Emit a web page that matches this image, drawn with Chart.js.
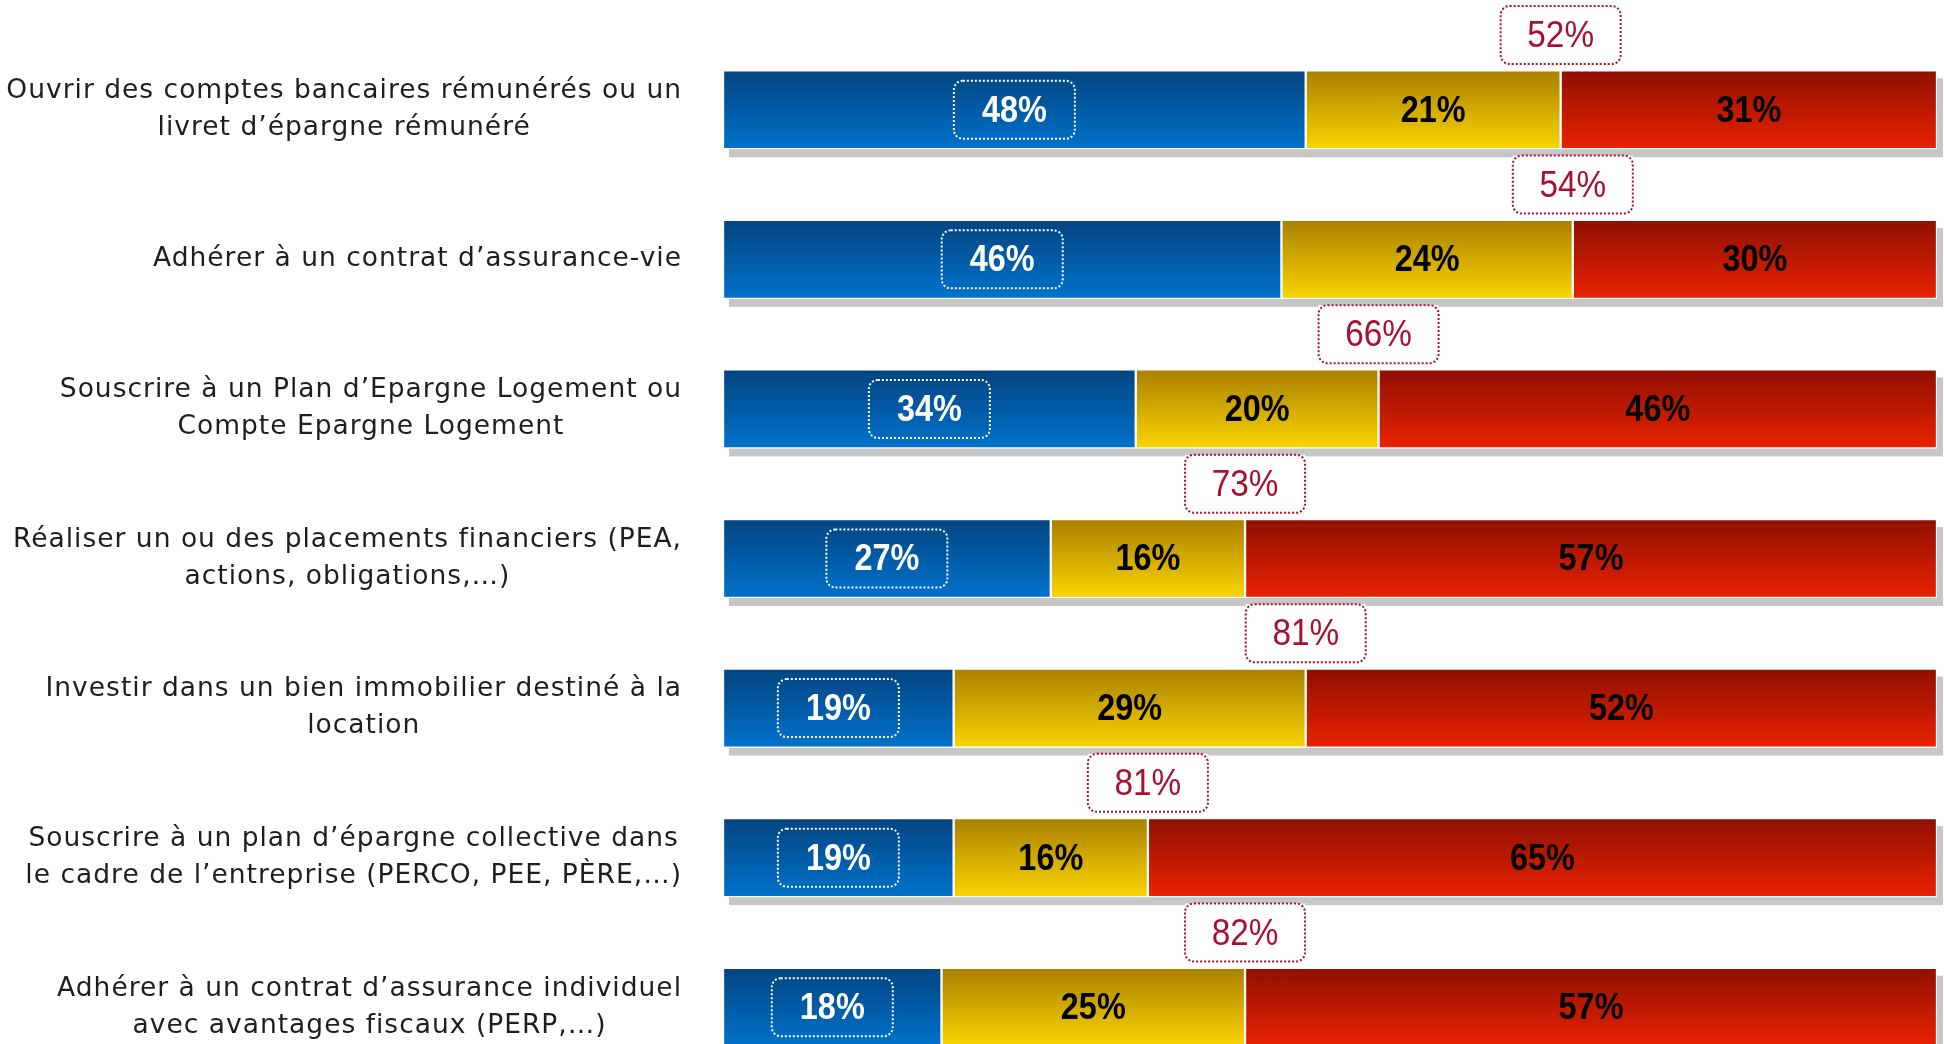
<!DOCTYPE html>
<html>
<head>
<meta charset="utf-8">
<script src="https://cdn.jsdelivr.net/npm/chart.js@4.4.1/dist/chart.umd.min.js"></script>
<style>
html, body { margin: 0; padding: 0; background: #fff; overflow: hidden; width: 1944px; height: 1044px; }
#wrap { position: absolute; left: 0; top: 0; width: 1944px; height: 1082px; }
</style>
</head>
<body>
<div id="wrap"><canvas id="chart"></canvas></div>
<script>
// Category labels (one array entry per line)
const categories = [
    ['Ouvrir des comptes bancaires rémunérés ou un', 'livret d’épargne rémunéré'],
    ['Adhérer à un contrat d’assurance-vie'],
    ['Souscrire à un Plan d’Epargne Logement ou', 'Compte Epargne Logement'],
    ['Réaliser un ou des placements financiers (PEA,', 'actions, obligations,…)'],
    ['Investir dans un bien immobilier destiné à la', 'location'],
    ['Souscrire à un plan d’épargne collective dans', 'le cadre de l’entreprise (PERCO, PEE, PÈRE,…)'],
    ['Adhérer à un contrat d’assurance individuel', 'avec avantages fiscaux (PERP,…)']
];

// Series values (%)
const blueValues = [48, 46, 34, 27, 19, 19, 18];
const yellowValues = [21, 24, 20, 16, 29, 16, 25];
const redValues = [31, 30, 46, 57, 52, 65, 57];
// Totals shown in the red boxes above each bar
const boxTotals = [52, 54, 66, 73, 81, 81, 82];

const BAR_THICKNESS = 79;

// Vertical gradient for each bar
function makeGradient(top, bottom) {
    return function(context) {
        const chart = context.chart;
        const yScale = chart.scales.y;
        if (!chart.chartArea || !yScale || context.type !== 'data') {
            return bottom;
        }
        const c = yScale.getPixelForValue(context.dataIndex);
        const half = BAR_THICKNESS / 2;
        const g = chart.ctx.createLinearGradient(0, c - half, 0, c + half);
        g.addColorStop(0, top);
        g.addColorStop(1, bottom);
        return g;
    };
}

// Grey drop shadow behind each full bar
const shadowPlugin = {
    id: 'barShadow',
    beforeDatasetsDraw(chart) {
        const ctx = chart.ctx;
        const first = chart.getDatasetMeta(0).data;
        const last = chart.getDatasetMeta(2).data;
        ctx.save();
        ctx.fillStyle = '#c6c6c6';
        first.forEach((bar, i) => {
            const a = bar.getProps(['base', 'y', 'height'], true);
            const b = last[i].getProps(['x'], true);
            ctx.fillRect(a.base + 6, a.y - a.height / 2 + 8, b.x - a.base, a.height);
        });
        ctx.restore();
    }
};

function dottedBox(ctx, cx, cy, w, h, color) {
    ctx.save();
    ctx.strokeStyle = color;
    ctx.lineWidth = 2;
    ctx.setLineDash([2, 2]);
    ctx.beginPath();
    ctx.roundRect(cx - w / 2, cy - h / 2, w, h, 9);
    ctx.stroke();
    ctx.restore();
}

function drawValue(ctx, text, x, y, font, color) {
    ctx.save();
    ctx.translate(x, y);
    ctx.scale(0.9, 1);
    ctx.font = font;
    ctx.fillStyle = color;
    ctx.textAlign = 'center';
    ctx.textBaseline = 'middle';
    ctx.fillText(text, 0, 2);
    ctx.restore();
}

// Value labels and boxes
const labelPlugin = {
    id: 'valueLabels',
    afterDatasetsDraw(chart) {
        const ctx = chart.ctx;
        const yScale = chart.scales.y;
        const pitch = yScale.getPixelForValue(1) - yScale.getPixelForValue(0);
        chart.data.datasets.forEach((ds, d) => {
            chart.getDatasetMeta(d).data.forEach((bar, i) => {
                const p = bar.getProps(['x', 'y', 'base'], true);
                const cx = (p.x + p.base) / 2;
                if (d === 0) {
                    dottedBox(ctx, cx, p.y, 121, 58, '#ffffff');
                    drawValue(ctx, ds.data[i] + '%', cx, p.y, 'bold 36px "Liberation Sans"', '#ffffff');
                } else {
                    drawValue(ctx, ds.data[i] + '%', cx, p.y, 'bold 36px "Liberation Sans"', '#000000');
                }
                if (d === 1) {
                    const by = p.y - pitch / 2;
                    ctx.save();
                    ctx.fillStyle = '#ffffff';
                    ctx.fillRect(p.x - 60, by - 29, 120, 58);
                    ctx.restore();
                    dottedBox(ctx, p.x, by, 120, 58, '#a8102f');
                    drawValue(ctx, boxTotals[i] + '%', p.x, by, '37px "Liberation Sans"', '#a8102f');
                }
            });
        });
    }
};

// Category labels: block right-aligned, lines centred within the block
const categoryPlugin = {
    id: 'categoryLabels',
    afterDraw(chart) {
        const ctx = chart.ctx;
        const yScale = chart.scales.y;
        const right = chart.chartArea.left - 41;
        const lineHeight = 37;
        ctx.save();
        ctx.font = '26.5px "DejaVu Sans"';
        ctx.letterSpacing = '1px';
        ctx.fillStyle = '#1e1e1e';
        ctx.textAlign = 'center';
        ctx.textBaseline = 'middle';
        categories.forEach((lines, i) => {
            const w = Math.max(...lines.map(l => ctx.measureText(l).width));
            const cx = right - w / 2;
            const cy = yScale.getPixelForValue(i);
            const y0 = cy - (lines.length - 1) * lineHeight / 2;
            lines.forEach((l, k) => ctx.fillText(l, cx, y0 + k * lineHeight));
        });
        ctx.restore();
    }
};

const ctx = document.getElementById('chart').getContext('2d');
new Chart(ctx, {
    type: 'bar',
    data: {
        labels: categories,
        datasets: [
            {
                label: 'Favorable',
                data: blueValues,
                backgroundColor: makeGradient('#03447f', '#0072cc')
            },
            {
                label: 'Neutre',
                data: yellowValues,
                backgroundColor: makeGradient('#a88000', '#fbd500')
            },
            {
                label: 'Défavorable',
                data: redValues,
                backgroundColor: makeGradient('#8e1000', '#ea2200')
            }
        ]
    },
    options: {
        indexAxis: 'y',
        responsive: true,
        maintainAspectRatio: false,
        animation: false,
        layout: {
            padding: { top: 35, right: 7, bottom: 0, left: 0 }
        },
        datasets: {
            bar: {
                barThickness: BAR_THICKNESS,
                borderColor: 'rgba(255,255,255,0.95)',
                borderWidth: 1.5,
                borderSkipped: false
            }
        },
        plugins: {
            legend: { display: false },
            title: { display: false },
            tooltip: { enabled: false }
        },
        scales: {
            x: {
                stacked: true,
                min: 0,
                max: 100,
                display: false
            },
            y: {
                stacked: true,
                grid: { display: false },
                border: { display: false },
                ticks: { display: false },
                afterFit: scale => { scale.width = 723; }
            }
        }
    },
    plugins: [shadowPlugin, labelPlugin, categoryPlugin]
});
</script>
</body>
</html>
